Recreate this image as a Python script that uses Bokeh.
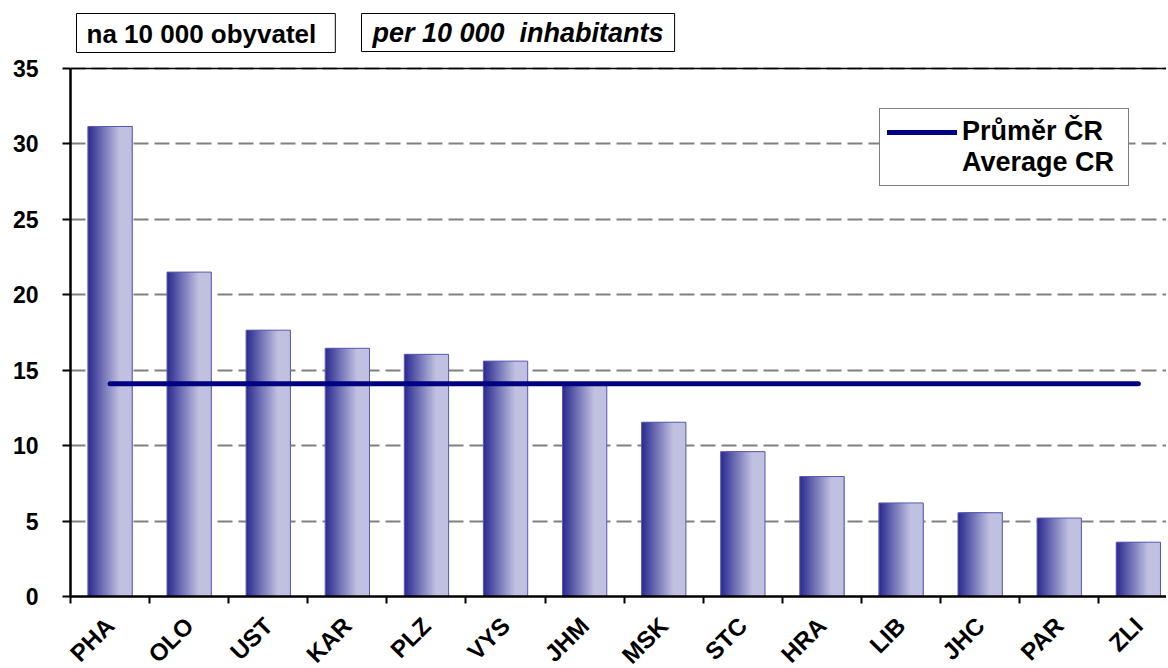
import numpy as np
from bokeh.plotting import figure
from bokeh.models import Range1d, FixedTicker, Label, Legend, LegendItem, Span, ColumnDataSource
from bokeh.embed import file_html
from bokeh.resources import INLINE

# ---- data ----
regions = ["PHA", "OLO", "UST", "KAR", "PLZ", "VYS", "JHM",
           "MSK", "STC", "HRA", "LIB", "JHC", "PAR", "ZLI"]
values = [31.15, 21.5, 17.65, 16.45, 16.05, 15.6, 14.05,
          11.55, 9.6, 7.95, 6.2, 5.55, 5.2, 3.6]
average_cr = 14.1
y_ticks = [0, 5, 10, 15, 20, 25, 30, 35]
title_cz = "na 10 000 obyvatel"
title_en = "per 10 000 \u00a0inhabitants"
legend_cz = "Průměr ČR"
legend_en = "Average CR"

FONT = "Liberation Sans"
n = len(regions)
centers = np.arange(n) + 0.5
bar_w = 0.56

p = figure(frame_width=1096, frame_height=596,
           x_range=Range1d(0, 13.856), y_range=Range1d(0, 39.5),
           output_backend="svg", toolbar_location=None,
           min_border_left=70, min_border_right=0,
           min_border_top=0, min_border_bottom=70)
p.background_fill_color = "white"
p.border_fill_color = "white"
p.outline_line_color = None

# ---- gradient bars ----
dark = np.array([46, 46, 146])
light = np.array([192, 192, 224])
N = 24
for i in range(N):
    t = i / (N - 1)
    te = min(t / 0.72, 1.0)
    c = dark + (light - dark) * te
    col = "#%02x%02x%02x" % tuple(int(round(v)) for v in c)
    start = -bar_w / 2 + i * bar_w / N
    right = bar_w / 2
    src = ColumnDataSource(dict(x=centers + (start + right) / 2, top=values))
    p.vbar(x="x", top="top", width=right - start, bottom=0, source=src,
           fill_color=col, line_color=None)
p.vbar(x=centers, top=values, width=bar_w, bottom=0,
       fill_color=None, line_color="#5a5ab4", line_width=1)

# ---- average line ----
avg_line = p.line(x=[centers[0], centers[-1]], y=[average_cr, average_cr],
                  line_width=5, line_color="#000080", line_cap="round")
dummy = p.line(x=[], y=[], line_alpha=0)

# ---- top line ----
p.add_layout(Span(location=y_ticks[-1], dimension="width",
                  line_color="black", line_width=1.5))

# ---- axes ----
p.xgrid.visible = False
p.ygrid.ticker = FixedTicker(ticks=y_ticks)
p.ygrid.grid_line_color = "#808080"
p.ygrid.grid_line_width = 2
p.ygrid.grid_line_dash = "15 6"

p.yaxis.ticker = FixedTicker(ticks=y_ticks)
p.yaxis.bounds = (y_ticks[0], y_ticks[-1])
p.yaxis.axis_line_width = 2.5
p.yaxis.axis_line_color = "black"
p.yaxis.major_tick_out = 8
p.yaxis.major_tick_in = 0
p.yaxis.major_tick_line_width = 2
p.yaxis.minor_tick_line_color = None
p.yaxis.major_label_standoff = 24
p.yaxis.major_label_text_font = FONT
p.yaxis.major_label_text_font_size = "23px"
p.yaxis.major_label_text_font_style = "bold"
p.yaxis.major_label_text_color = "black"

p.xaxis.ticker = FixedTicker(ticks=list(centers), minor_ticks=list(range(n)))
p.xaxis.major_label_overrides = {float(c): r for c, r in zip(centers, regions)}
p.xaxis.axis_line_width = 2.5
p.xaxis.axis_line_color = "black"
p.xaxis.major_tick_out = 0
p.xaxis.major_tick_in = 0
p.xaxis.minor_tick_out = 7
p.xaxis.minor_tick_in = 0
p.xaxis.minor_tick_line_width = 2
p.xaxis.minor_tick_line_color = "black"
p.xaxis.major_label_orientation = np.pi / 4
p.xaxis.major_label_standoff = 18
p.xaxis.major_label_text_font = FONT
p.xaxis.major_label_text_font_size = "24px"
p.xaxis.major_label_text_font_style = "bold"
p.xaxis.major_label_text_color = "black"

# ---- legend ----
legend = Legend(items=[LegendItem(label=legend_cz, renderers=[avg_line]),
                       LegendItem(label=legend_en, renderers=[dummy])],
                location=(809, 410), border_line_color="black", border_line_width=1,
                padding=7, spacing=0, margin=0, glyph_width=70, glyph_height=30,
                label_height=30, label_width=159, label_standoff=5,
                label_text_font=FONT, label_text_font_size="27px",
                label_text_font_style="bold", label_text_color="black",
                background_fill_color="white", background_fill_alpha=1)
p.add_layout(legend)

# ---- title boxes ----
lab1 = Label(x=6, y=583, x_units="screen", y_units="screen", text=title_cz,
             text_font=FONT, text_font_size="26px", text_font_style="bold",
             text_color="black", text_align="left", text_baseline="top",
             border_line_color="black", border_line_width=1,
             background_fill_color="white", padding=(10, 19, 5, 4))
lab2 = Label(x=291, y=583, x_units="screen", y_units="screen", text=title_en,
             text_font=FONT, text_font_size="27px", text_font_style="bold italic",
             text_color="black", text_align="left", text_baseline="top",
             border_line_color="black", border_line_width=1,
             background_fill_color="white", padding=(11, 4))
p.add_layout(lab1)
p.add_layout(lab2)

open("out.html", "w").write(file_html(p, INLINE))
